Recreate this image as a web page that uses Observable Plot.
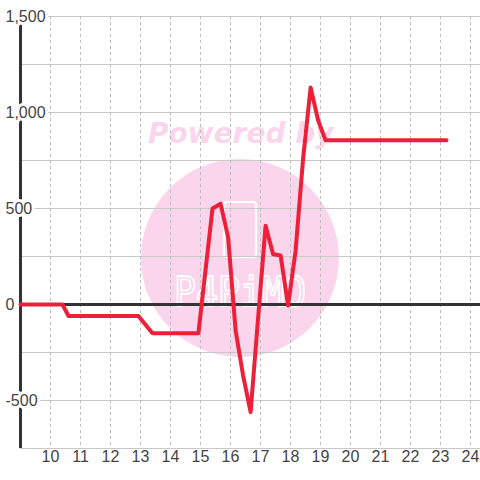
<!DOCTYPE html>
<html><head><meta charset="utf-8">
<script src="https://cdn.jsdelivr.net/npm/d3@7"></script>
<script src="https://cdn.jsdelivr.net/npm/@observablehq/plot@0.6"></script>
<style>
html,body{margin:0;padding:0;background:#fff;}
#chart{width:480px;height:480px;}
</style></head><body><div id="chart"></div>
<script>
// Data
const hours  = [9, 10.4, 10.6, 12.93, 13.4, 14.93, 15.4, 15.67, 15.92, 16.17, 16.42, 16.67, 16.92, 17.17, 17.42, 17.67, 17.92, 18.17, 18.42, 18.67, 18.92, 19.17, 23.2];
const values = [0, 0, -60, -60, -150, -150, 500, 525, 351, -135, -370, -560, -70, 410, 262, 255, -5, 280, 760, 1130, 960, 855, 855];
const xTicks = [10, 11, 12, 13, 14, 15, 16, 17, 18, 19, 20, 21, 22, 23, 24];
const yTicks = [-500, 0, 500, 1000, 1500];
const yGrid  = [-750, -500, -250, 0, 250, 500, 750, 1000, 1250, 1500];

const series = hours.map((h, i) => ({hour: h, value: values[i]}));
const fmt = d => d3.format(",")(d).replace("\u2212", "-");
const FONT = "'Liberation Sans', Arial, sans-serif";

// Watermark (drawn behind the grid)
function watermark(index, scales) {
  const g = d3.create("svg:g");
  const cx = scales.x(16.33), cy = scales.y(240);
  g.append("circle").attr("cx", cx).attr("cy", cy).attr("r", 99).attr("fill", "#fbd5eb");
  g.append("text").attr("x", 148).attr("y", 143).attr("text-anchor", "start")
    .attr("font-family", "'DejaVu Sans', Verdana, sans-serif")
    .attr("font-weight", "bold").attr("font-style", "italic")
    .attr("font-size", 28).attr("fill", "#fbd5eb").text("Powered by");
  g.append("rect").attr("x", 224).attr("y", 202).attr("width", 32).attr("height", 55).attr("rx", 3)
    .attr("fill", "none").attr("stroke", "white").attr("stroke-width", 2);
  g.append("text").attr("x", cx).attr("y", 306).attr("text-anchor", "middle")
    .attr("font-family", "'DejaVu Sans Mono', monospace").attr("font-size", 40)
    .attr("textLength", 132).attr("lengthAdjust", "spacingAndGlyphs")
    .attr("fill", "none").attr("stroke", "white").attr("stroke-width", 1.8).text("P4PiMO");
  return g.node();
}

const chart = Plot.plot({
  width: 480,
  height: 480,
  marginLeft: 20,
  marginRight: 0,
  marginTop: 16,
  marginBottom: 32,
  style: {background: "white", fontFamily: FONT},
  x: {domain: [9, 24.333], axis: null},
  y: {domain: [-750, 1500], axis: null},
  marks: [
    watermark,
    Plot.ruleY(yGrid, {stroke: "#c8c8c8", strokeWidth: 1}),
    Plot.ruleX(xTicks, {stroke: "#bdbdbd", strokeWidth: 1, strokeDasharray: "3,3"}),
    Plot.ruleY([0], {stroke: "#333", strokeWidth: 3}),
    Plot.ruleX([9], {stroke: "#333", strokeWidth: 3}),
    Plot.text(yTicks, {y: d => d, frameAnchor: "left", dx: -15, textAnchor: "start",
      text: d => fmt(d), fill: "#444", stroke: "white", strokeWidth: 6, fontSize: 16}),
    Plot.text(xTicks, {x: d => d, frameAnchor: "bottom", dy: 13,
      text: d => String(d), fill: "#444", fontSize: 16}),
    Plot.line(series, {x: "hour", y: "value", stroke: "#ee1f38", strokeWidth: 4})
  ]
});
document.getElementById("chart").appendChild(chart);
</script></body></html>
